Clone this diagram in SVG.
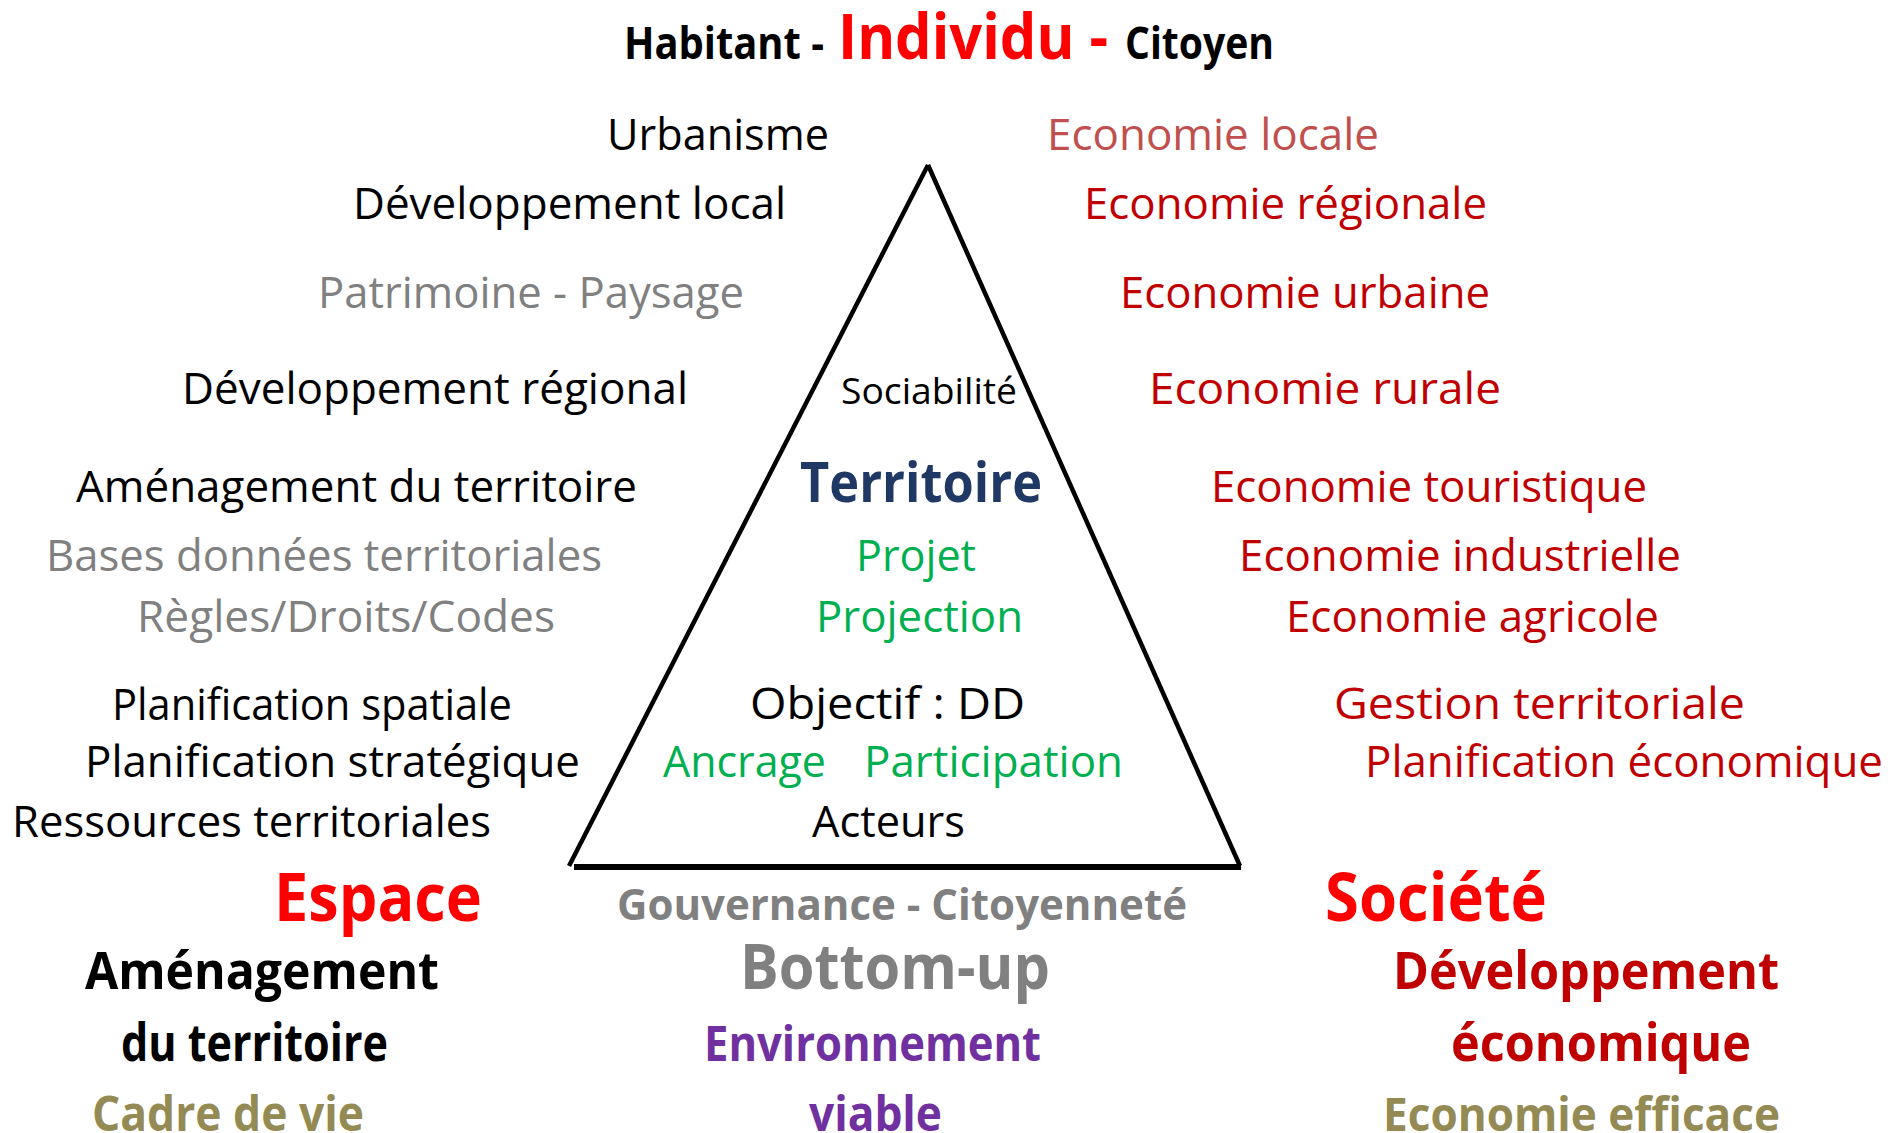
<svg xmlns="http://www.w3.org/2000/svg" width="1903" height="1133" viewBox="0 0 1903 1133">
<style>
text{font-family:"Open Sans","Noto Sans","Liberation Sans",sans-serif}
.r{font-weight:400}
.b{font-weight:700}
.k{fill:#000}
.red{fill:#FF0000}
.dr{fill:#C00000}
.lr{fill:#C0504D}
.g{fill:#808080}
.gr{fill:#00B050}
.bl{fill:#1F3864}
.pu{fill:#7030A0}
.ol{fill:#948A54}
.s44{font-size:44px}
.side{fill:none;stroke:#000;stroke-width:4.5;stroke-linecap:butt}
.base{fill:none;stroke:#000;stroke-width:6}
</style>
<rect width="1903" height="1133" fill="#fff"/>
<g id="triangle">
<line class="side" x1="928" y1="165" x2="569" y2="866"/>
<line class="side" x1="928" y1="165" x2="1240" y2="866"/>
<line class="base" x1="574" y1="867" x2="1241" y2="867"/>
</g>
<g id="title">
<text class="b k" x="624" y="59" font-size="44" textLength="200" lengthAdjust="spacingAndGlyphs">Habitant -</text>
<text class="b red" x="838" y="59" font-size="62" textLength="270" lengthAdjust="spacingAndGlyphs">Individu -</text>
<text class="b k" x="1125" y="59" font-size="44" textLength="149" lengthAdjust="spacingAndGlyphs">Citoyen</text>
</g>
<g id="left">
<text id="urbanisme" class="r k s44" x="607" y="150" textLength="222" lengthAdjust="spacingAndGlyphs">Urbanisme</text>
<text id="dev-local" class="r k s44" x="353" y="219" textLength="433" lengthAdjust="spacingAndGlyphs">Développement local</text>
<text id="patrimoine" class="r g s44" x="318" y="308" textLength="426" lengthAdjust="spacingAndGlyphs">Patrimoine - Paysage</text>
<text id="dev-regional" class="r k s44" x="182" y="404" textLength="506" lengthAdjust="spacingAndGlyphs">Développement régional</text>
<text id="amenagement-territoire" class="r k s44" x="76" y="502" textLength="561" lengthAdjust="spacingAndGlyphs">Aménagement du territoire</text>
<text id="bases" class="r g s44" x="46" y="571" textLength="556" lengthAdjust="spacingAndGlyphs">Bases données territoriales</text>
<text id="regles" class="r g s44" x="137" y="632" textLength="418" lengthAdjust="spacingAndGlyphs">Règles/Droits/Codes</text>
<text id="plan-spatiale" class="r k s44" x="112" y="720" textLength="400" lengthAdjust="spacingAndGlyphs">Planification spatiale</text>
<text id="plan-strategique" class="r k s44" x="85" y="777" textLength="495" lengthAdjust="spacingAndGlyphs">Planification stratégique</text>
<text id="ressources" class="r k s44" x="12" y="837" textLength="479" lengthAdjust="spacingAndGlyphs">Ressources territoriales</text>
</g>
<g id="right">
<text id="eco-locale" class="r lr s44" x="1047" y="150" textLength="332" lengthAdjust="spacingAndGlyphs">Economie locale</text>
<text id="eco-regionale" class="r dr s44" x="1084" y="219" textLength="403" lengthAdjust="spacingAndGlyphs">Economie régionale</text>
<text id="eco-urbaine" class="r dr s44" x="1120" y="308" textLength="370" lengthAdjust="spacingAndGlyphs">Economie urbaine</text>
<text id="eco-rurale" class="r dr s44" x="1149" y="404" textLength="352" lengthAdjust="spacingAndGlyphs">Economie rurale</text>
<text id="eco-touristique" class="r dr s44" x="1211" y="502" textLength="436" lengthAdjust="spacingAndGlyphs">Economie touristique</text>
<text id="eco-industrielle" class="r dr s44" x="1239" y="571" textLength="442" lengthAdjust="spacingAndGlyphs">Economie industrielle</text>
<text id="eco-agricole" class="r dr s44" x="1286" y="632" textLength="373" lengthAdjust="spacingAndGlyphs">Economie agricole</text>
<text id="gestion" class="r dr s44" x="1334" y="719" textLength="411" lengthAdjust="spacingAndGlyphs">Gestion territoriale</text>
<text id="plan-eco" class="r dr s44" x="1365" y="777" textLength="518" lengthAdjust="spacingAndGlyphs">Planification économique</text>
</g>
<g id="center">
<text id="sociabilite" class="r k" x="841" y="404" font-size="36" textLength="176" lengthAdjust="spacingAndGlyphs">Sociabilité</text>
<text id="territoire" class="b bl" x="800" y="502" font-size="55" textLength="242" lengthAdjust="spacingAndGlyphs">Territoire</text>
<text id="projet" class="r gr s44" x="856" y="571" textLength="120" lengthAdjust="spacingAndGlyphs">Projet</text>
<text id="projection" class="r gr s44" x="816" y="632" textLength="207" lengthAdjust="spacingAndGlyphs">Projection</text>
<text id="objectif" class="r k s44" x="750" y="719" textLength="275" lengthAdjust="spacingAndGlyphs">Objectif : DD</text>
<text id="ancrage" class="r gr s44" x="663" y="777" textLength="163" lengthAdjust="spacingAndGlyphs">Ancrage</text>
<text id="participation" class="r gr s44" x="864" y="777" textLength="259" lengthAdjust="spacingAndGlyphs">Participation</text>
<text id="acteurs" class="r k s44" x="812" y="837" textLength="153" lengthAdjust="spacingAndGlyphs">Acteurs</text>
</g>
<g id="espace">
<text class="b red" x="274" y="921" font-size="66" textLength="208" lengthAdjust="spacingAndGlyphs">Espace</text>
<text class="b k" x="85" y="989" font-size="52" textLength="354" lengthAdjust="spacingAndGlyphs">Aménagement</text>
<text class="b k" x="121" y="1061" font-size="52" textLength="267" lengthAdjust="spacingAndGlyphs">du territoire</text>
<text class="b ol" x="92" y="1131" font-size="48" textLength="272" lengthAdjust="spacingAndGlyphs">Cadre de vie</text>
</g>
<g id="gouvernance">
<text class="b g" x="617" y="920" font-size="43" textLength="570" lengthAdjust="spacingAndGlyphs">Gouvernance - Citoyenneté</text>
<text class="b g" x="740" y="989" font-size="62" textLength="310" lengthAdjust="spacingAndGlyphs">Bottom-up</text>
<text class="b pu" x="704" y="1061" font-size="48" textLength="337" lengthAdjust="spacingAndGlyphs">Environnement</text>
<text class="b pu" x="809" y="1131" font-size="48" textLength="133" lengthAdjust="spacingAndGlyphs">viable</text>
</g>
<g id="societe">
<text class="b red" x="1325" y="921" font-size="66" textLength="222" lengthAdjust="spacingAndGlyphs">Société</text>
<text class="b dr" x="1393" y="989" font-size="52" textLength="386" lengthAdjust="spacingAndGlyphs">Développement</text>
<text class="b dr" x="1451" y="1061" font-size="52" textLength="300" lengthAdjust="spacingAndGlyphs">économique</text>
<text class="b ol" x="1383" y="1131" font-size="47" textLength="397" lengthAdjust="spacingAndGlyphs">Economie efficace</text>
</g>
</svg>
